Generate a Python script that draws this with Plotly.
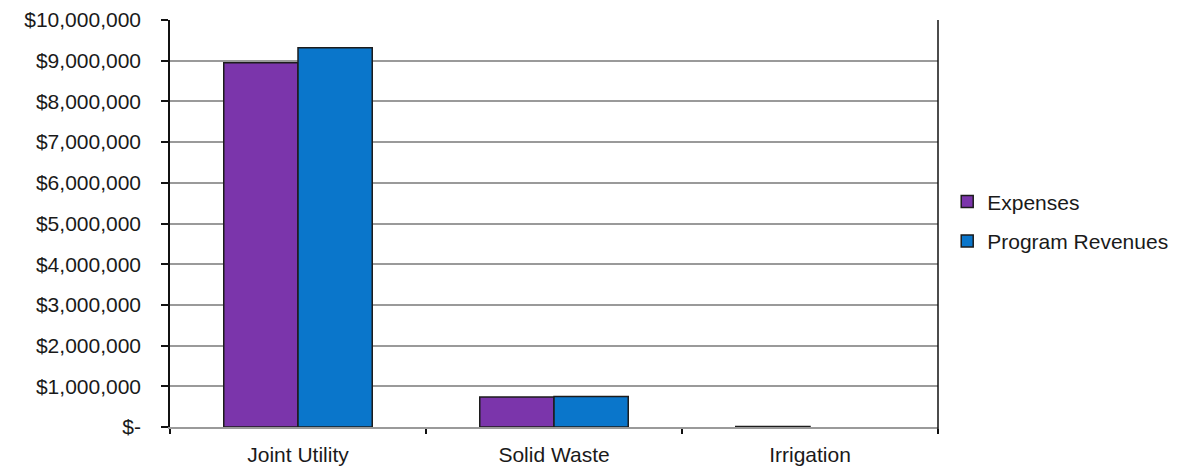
import plotly.graph_objects as go

categories = ["Joint Utility", "Solid Waste", "Irrigation"]
expenses = [8950000, 740000, 15000]
program_revenues = [9320000, 750000, 0]

tick_values = [0, 1000000, 2000000, 3000000, 4000000, 5000000,
               6000000, 7000000, 8000000, 9000000, 10000000]
tick_labels = ["$-", "$1,000,000", "$2,000,000", "$3,000,000", "$4,000,000",
               "$5,000,000", "$6,000,000", "$7,000,000", "$8,000,000",
               "$9,000,000", "$10,000,000"]

font_family = "Liberation Sans, Arial, sans-serif"


def outline(values):
    # zero-height bars get no outline
    return dict(color="#1c1c1c", width=[1.5 if v else 0 for v in values])


fig = go.Figure()
fig.add_trace(go.Bar(name="Expenses", x=categories, y=expenses,
                     marker=dict(color="#7b35ab", line=outline(expenses)),
                     legendgroup="a"))
fig.add_trace(go.Bar(name="Program Revenues", x=categories, y=program_revenues,
                     marker=dict(color="#0a76cb", line=outline(program_revenues)),
                     legendgroup="b"))

fig.update_layout(
    width=1197, height=472,
    margin=dict(l=170, r=259, t=20, b=45, autoexpand=False),
    paper_bgcolor="white", plot_bgcolor="white",
    barmode="group", bargap=0.42, bargroupgap=0,
    font=dict(family=font_family, size=21, color="#1a1a1a"),
    legend=dict(x=1.012, y=0.505, xanchor="left", yanchor="middle",
                traceorder="grouped", tracegroupgap=9, itemwidth=30,
                font=dict(size=21)),
    xaxis=dict(
        type="category", tickson="boundaries", ticks="outside",
        ticklen=5, tickwidth=1.5, tickcolor="#111",
        showline=True, linecolor="#9a9a9a", linewidth=2,
        showgrid=False, ticklabelstandoff=8, automargin=False,
    ),
    yaxis=dict(
        range=[0, 10000000], tickvals=tick_values, ticktext=tick_labels,
        showline=True, linecolor="#111", linewidth=1.5,
        ticks="outside", ticklen=7, tickwidth=1.5, tickcolor="#111",
        showgrid=True, gridcolor="#9a9a9a", gridwidth=2,
        zeroline=False, ticklabelstandoff=16, automargin=False,
    ),
    shapes=[dict(type="line", xref="paper", yref="paper",
                 x0=1, x1=1, y0=-0.012, y1=1,
                 line=dict(color="#111", width=1.5))],
)

fig.write_html("out.html")
